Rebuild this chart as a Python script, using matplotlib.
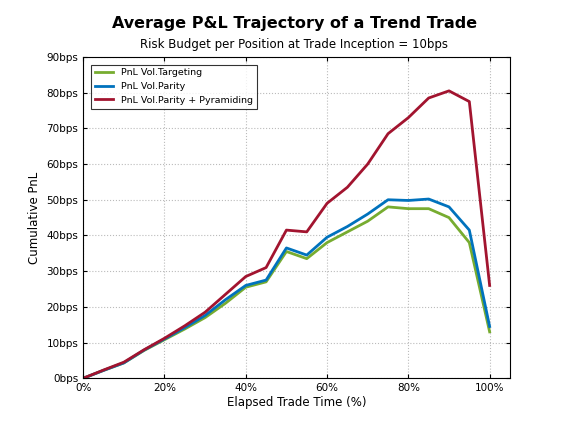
import matplotlib
matplotlib.use("Agg")
import matplotlib.pyplot as plt
from matplotlib.ticker import FuncFormatter

x = list(range(0, 101, 5))
green = [0, 2.2, 4.3, 7.8, 10.8, 13.8, 17, 21, 25.5, 27, 35.5, 33.5, 38, 41, 44, 48, 47.5, 47.5, 45, 38, 13]
blue = [0, 2.2, 4.3, 7.9, 11, 14.2, 17.6, 22, 26, 27.5, 36.5, 34.5, 39.5, 42.5, 46, 50, 49.8, 50.2, 48, 41.5, 14.5]
red = [0, 2.3, 4.5, 8, 11.2, 14.7, 18.5, 23.5, 28.5, 31, 41.5, 41, 49, 53.5, 60, 68.5, 73, 78.5, 80.5, 77.5, 26]
labels = ["PnL Vol.Targeting", "PnL Vol.Parity", "PnL Vol.Parity + Pyramiding"]

fig = plt.figure(figsize=(5.66, 4.25), dpi=100)
ax = fig.add_axes([0.147, 0.11, 0.754, 0.756])
ax.plot(x, green, color="#77ac30", lw=2, label=labels[0])
ax.plot(x, blue, color="#0072bd", lw=2, label=labels[1])
ax.plot(x, red, color="#a2142f", lw=2, label=labels[2])
ax.set_xlim(0, 105)
ax.set_ylim(0, 90)
ax.set_xticks(range(0, 101, 20))
ax.set_yticks(range(0, 91, 10))
ax.xaxis.set_major_formatter(FuncFormatter(lambda v, p: f"{int(v)}%"))
ax.yaxis.set_major_formatter(FuncFormatter(lambda v, p: f"{int(v)}bps"))
ax.tick_params(labelsize=7.5, direction="in", top=True, right=True, length=3)
ax.grid(True, linestyle=":", color="#bbbbbb", lw=0.8)
ax.set_xlabel("Elapsed Trade Time (%)", fontsize=8.5, labelpad=2)
ax.set_ylabel("Cumulative PnL", fontsize=8.5)
fig.text(0.52, 0.935, "Average P&L Trajectory of a Trend Trade", ha="center", fontsize=11.5, fontweight="bold")
fig.text(0.52, 0.887, "Risk Budget per Position at Trade Inception = 10bps", ha="center", fontsize=8.5)
leg = ax.legend(loc="upper left", fontsize=6.8, frameon=True, fancybox=False, edgecolor="black", borderaxespad=0.8)
leg.get_frame().set_linewidth(0.8)
fig.savefig("out.png", dpi=100)
